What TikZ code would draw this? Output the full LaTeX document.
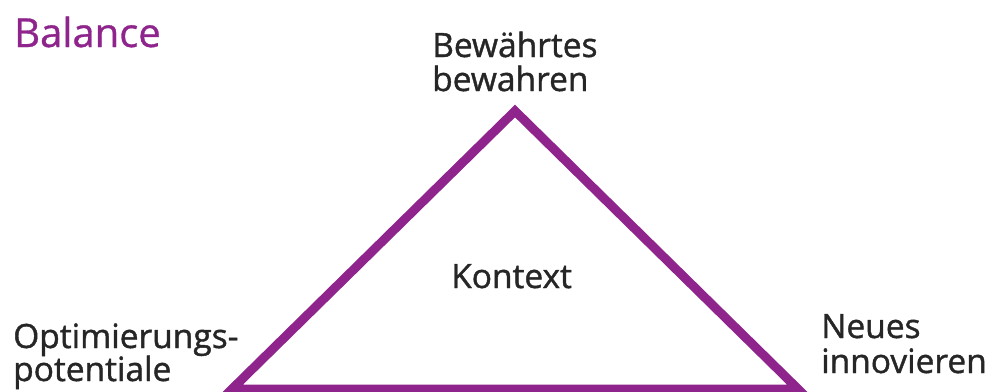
\documentclass[tikz,border=0pt]{standalone}
\usepackage{fontspec}
\setmainfont{Open Sans}
\newfontfamily\lblfont{Open Sans}[FakeBold=1.2]
\newfontfamily\ttlfont{Open Sans}[FakeBold=0.8]
\definecolor{tripurple}{RGB}{142,36,140}
\definecolor{txtdark}{RGB}{38,38,38}
\begin{document}
\begin{tikzpicture}[x=1pt,y=-1pt,
  lbl/.style={anchor=base west,inner sep=0pt,text=txtdark,font=\lblfont\fontsize{33.5}{35}\selectfont,align=left},
  ttl/.style={anchor=base west,inner sep=0pt,text=tripurple,font=\ttlfont\fontsize{40}{46}\selectfont},
  edge/.style={draw=tripurple,line width=9pt,line join=miter}]
\useasboundingbox (0,0) rectangle (987,391);
\begin{scope}
\clip (0,0) rectangle (987,391);
\coordinate (top) at (515,111);
\coordinate (bl) at (232,389);
\coordinate (br) at (798,389);
\draw[edge] (top) -- (br) -- (bl) -- cycle;
\end{scope}
\node[ttl] (title) at (14,47) {Balance};
\node[lbl] (bew1) at (432,57) {Bewährtes};
\node[lbl] (bew2) at (432,91) {bewahren};
\node[lbl] (ctx) at (451,288) {Kontext};
\node[lbl] (opt1) at (13,348) {Optimierungs-};
\node[lbl] (opt2) at (13,381) {potentiale};
\node[lbl] (neu1) at (821,338) {Neues};
\node[lbl] (neu2) at (821,373) {innovieren};
\end{tikzpicture}
\end{document}
